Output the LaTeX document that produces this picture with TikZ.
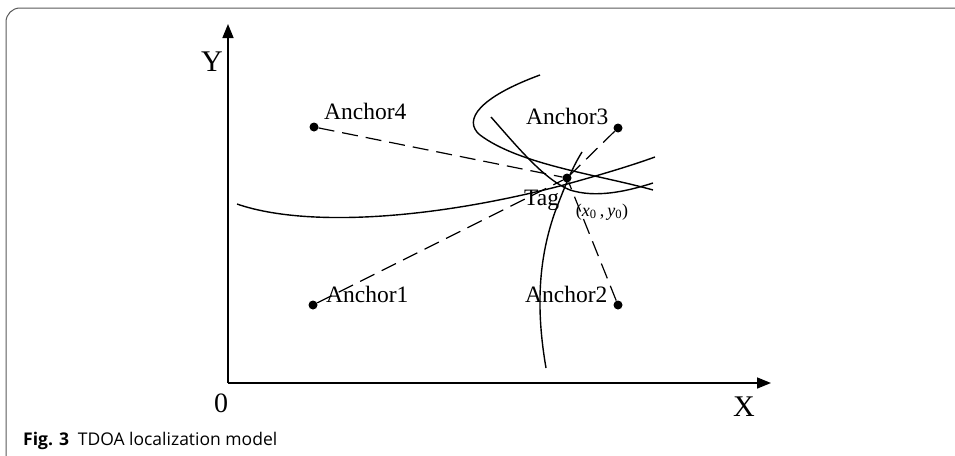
\documentclass[tikz,border=0pt]{standalone}
\usepackage{fontspec}
\setmainfont{Liberation Serif}
\newfontfamily\capfont{Open Sans}
\usetikzlibrary{arrows.meta}
\begin{document}
\begin{tikzpicture}[x=1pt,y=-1pt,
  dotnode/.style={circle,fill=black,inner sep=0pt,minimum size=9pt},
  lbl/.style={font=\fontsize{23.5}{25}\selectfont,inner sep=0pt},
  axlbl/.style={font=\fontsize{30}{32}\selectfont,inner sep=0pt},
  curve/.style={line width=1.4pt},
  dashline/.style={line width=1.2pt,dash pattern=on 16pt off 8pt},
  axis/.style={line width=1.5pt,-{Triangle[length=14pt,width=11pt]}}]
\useasboundingbox (0,0) rectangle (955,455);
\draw[gray!70!black,line width=1pt,rounded corners=14pt] (6,470) -- (6,8) -- (970,8);
% axes
\coordinate (O) at (228,383);
\coordinate (Yend) at (228,24);
\coordinate (Xend) at (771,383);
\draw[axis] (O) -- (Yend);
\draw[axis] (O) -- (Xend);
\node[axlbl] (ylab) at (212,62) {Y};
\node[axlbl] (xlab) at (744,407) {X};
\node[axlbl,font=\fontsize{28}{30}\selectfont] (zero) at (221,403) {0};
% anchors
\node[dotnode] (a4) at (314,127) {};
\node[dotnode] (a3) at (618,128) {};
\node[dotnode] (a1) at (313,305) {};
\node[dotnode] (a2) at (618,305) {};
\node[dotnode] (tag) at (567,178) {};
\node[lbl,anchor=base west] (l4) at (324,119) {Anchor4};
\node[lbl,anchor=base west] (l3) at (526,124) {Anchor3};
\node[lbl,anchor=base west] (l1) at (326,302) {Anchor1};
\node[lbl,anchor=base west] (l2) at (525,302) {Anchor2};
\node[lbl,anchor=base west] (ltag) at (524,205) {Tag};
\node[anchor=center,inner sep=0pt,font=\fontsize{18}{20}\selectfont] (lxy) at (602,212) {(\textit{x}\textsubscript{0}\,,\,\textit{y}\textsubscript{0})};
% dashed lines
\draw[dashline] (a4) -- (tag);
\draw[dashline] (a3) -- (tag);
\draw[dashline] (a1) -- (tag);
\draw[dashline] (a2) -- (tag);
% curves
\draw[curve] (237,204) .. controls (300,226) and (420,222) .. (560,186) .. controls (600,175) and (630,166) .. (655,157);
\draw[curve] (540,75) .. controls (480,97) and (462,120) .. (480,135) .. controls (520,165) and (600,175) .. (653,190);
\draw[curve] (491,117) .. controls (520,150) and (545,180) .. (570,190) .. controls (595,198) and (625,192) .. (653,183);
\draw[curve] (546,368) .. controls (536,310) and (538,260) .. (555,212) .. controls (565,186) and (572,168) .. (582,152);
% caption
\node[anchor=base west,inner sep=0pt,font=\capfont\fontsize{17.5}{19}\selectfont] (cap) at (23,445) {\textbf{Fig. 3}\enspace TDOA localization model};
\end{tikzpicture}
\end{document}
